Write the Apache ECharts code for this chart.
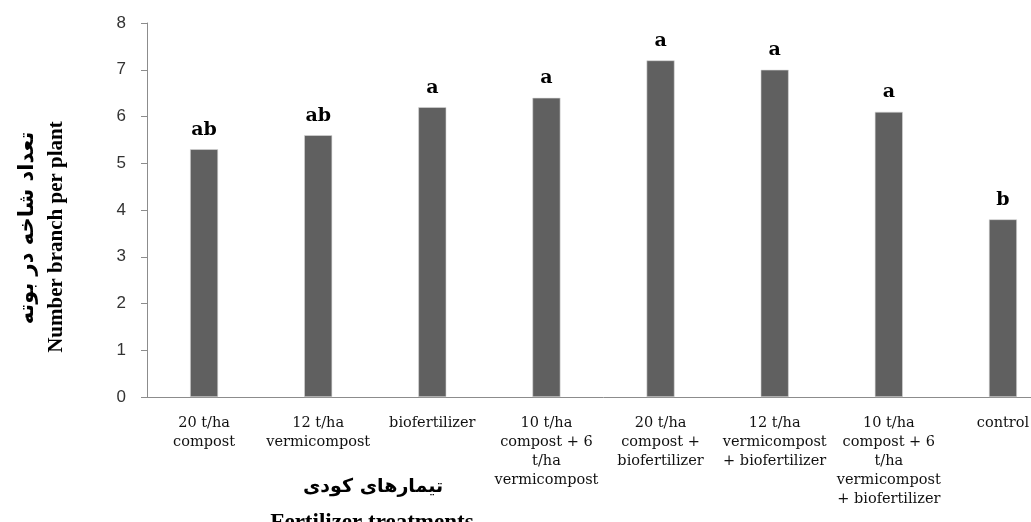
<!DOCTYPE html>
<html>
<head>
<meta charset="utf-8">
<script src="https://cdn.jsdelivr.net/npm/echarts@6/dist/echarts.min.js"></script>
<style>
  html, body { margin: 0; padding: 0; background: #fff; overflow: hidden; width: 1031px; height: 522px; }
  /* the plot runs slightly past the right edge of the page, so the last label is cut */
  #chart { width: 1060px; height: 522px; }
</style>
</head>
<body>
<div id="chart"></div>
<script>
// Treatments on the x axis
const categories = [
  '20 t/ha\ncompost',
  '12 t/ha\nvermicompost',
  'biofertilizer',
  '10 t/ha\ncompost + 6\nt/ha\nvermicompost',
  '20 t/ha\ncompost +\nbiofertilizer',
  '12 t/ha\nvermicompost\n+ biofertilizer',
  '10 t/ha\ncompost + 6\nt/ha\nvermicompost\n+ biofertilizer',
  'control'
];
// Mean number of branches per plant
const branches = [5.3, 5.6, 6.2, 6.4, 7.2, 7.0, 6.1, 3.8];
// Mean-comparison letters shown above each bar
const letters = ['ab', 'ab', 'a', 'a', 'a', 'a', 'a', 'b'];
// Y axis ticks
const yTicks = [0, 1, 2, 3, 4, 5, 6, 7, 8];

const yTitleFa = 'تعداد شاخه در بوته';
const yTitleEn = 'Number branch per plant';
const xTitleFa = 'تیمارهای کودی';
const xTitleEn = 'Fertilizer treatments';

const chart = echarts.init(document.getElementById('chart'), null, { renderer: 'canvas' });

chart.setOption({
  animation: false,
  backgroundColor: '#ffffff',
  grid: { left: 147, top: 23, bottom: 125, right: 0, containLabel: false },
  xAxis: {
    type: 'category',
    data: categories,
    axisLine: { show: true, lineStyle: { color: '#8c8c8c', width: 1 } },
    axisTick: { show: false },
    axisLabel: {
      interval: 0,
      margin: 17,
      color: '#111',
      fontFamily: '"DejaVu Serif", "Liberation Serif", serif',
      fontSize: 14.5,
      lineHeight: 19
    },
    splitLine: { show: false }
  },
  yAxis: {
    type: 'value',
    min: yTicks[0],
    max: yTicks[yTicks.length - 1],
    interval: 1,
    axisLine: { show: true, lineStyle: { color: '#8c8c8c', width: 1 } },
    axisTick: { show: true, length: 6, lineStyle: { color: '#8c8c8c' } },
    axisLabel: {
      margin: 21,
      color: '#333',
      fontFamily: '"Liberation Sans", Arial, sans-serif',
      fontSize: 17
    },
    splitLine: { show: false }
  },
  series: [{
    type: 'bar',
    data: branches,
    barWidth: 28,
    itemStyle: { color: '#606060', borderColor: '#d8d8d8', borderWidth: 0.6 },
    label: {
      show: true,
      position: 'top',
      distance: 10,
      formatter: p => letters[p.dataIndex],
      color: '#000',
      fontFamily: '"DejaVu Serif", "Liberation Serif", serif',
      fontWeight: 'bold',
      fontSize: 19
    }
  }],
  graphic: [
    {
      type: 'text',
      x: 28, y: 228,
      rotation: Math.PI / 2,
      style: {
        text: yTitleFa,
        fill: '#000',
        font: 'bold 21px "DejaVu Sans", sans-serif',
        textAlign: 'center',
        textVerticalAlign: 'middle'
      }
    },
    {
      type: 'text',
      x: 57, y: 237,
      rotation: Math.PI / 2,
      style: {
        text: yTitleEn,
        fill: '#000',
        font: 'bold 21px "Liberation Serif", serif',
        textAlign: 'center',
        textVerticalAlign: 'middle'
      }
    },
    {
      type: 'text',
      x: 373, y: 487,
      style: {
        text: xTitleFa,
        fill: '#000',
        font: 'bold 19px "DejaVu Sans", sans-serif',
        textAlign: 'center',
        textVerticalAlign: 'middle'
      }
    },
    {
      type: 'text',
      x: 372, y: 523,
      style: {
        text: xTitleEn,
        fill: '#000',
        font: 'bold 23px "Liberation Serif", serif',
        textAlign: 'center',
        textVerticalAlign: 'middle'
      }
    }
  ]
});
</script>
</body>
</html>
